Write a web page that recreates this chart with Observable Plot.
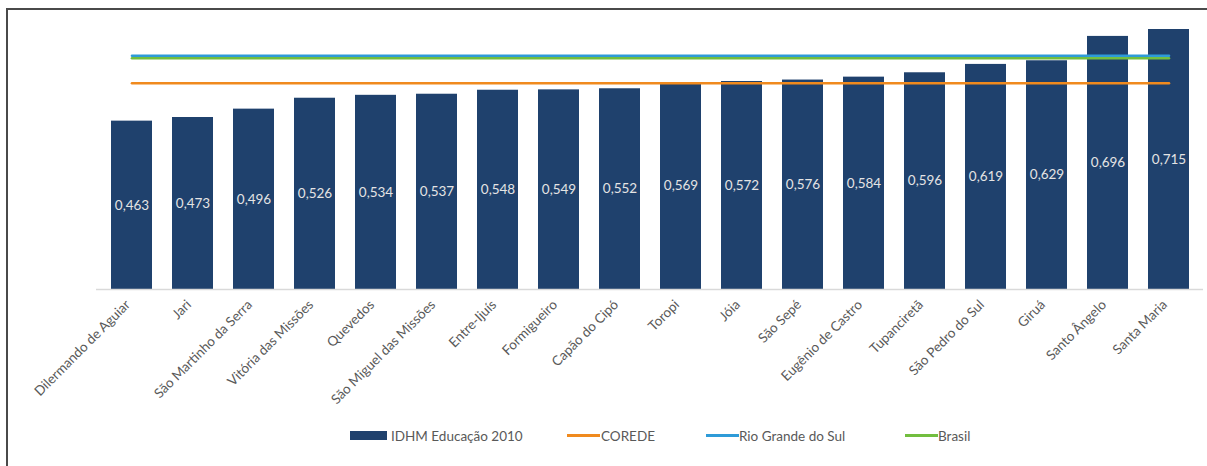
<!DOCTYPE html>
<html><head><meta charset="utf-8">
<script src="https://cdn.jsdelivr.net/npm/d3@7"></script>
<script src="https://cdn.jsdelivr.net/npm/@observablehq/plot@0.6"></script>
<style>
html,body{margin:0;padding:0;background:#fff}
body{width:1207px;height:466px;overflow:hidden;position:relative;font-family:Lato,sans-serif}
#frame{position:absolute;left:6px;top:8px;width:1400px;height:600px;border-top:2px solid #4a4a4a;border-left:2px solid #4a4a4a;box-sizing:border-box}
#chart{position:absolute;left:0;top:0}
.lg{position:absolute;top:427px;font-size:13.5px;color:#595959;line-height:18px;white-space:nowrap}
.sw{position:absolute}
</style></head>
<body>
<div id="frame"></div>
<div id="chart"></div>
<div id="legend"></div>
<script>
const cities = ["Dilermando de Aguiar","Jari","São Martinho da Serra","Vitória das Missões","Quevedos","São Miguel das Missões","Entre-Ijuís","Formigueiro","Capão do Cipó","Toropi","Jóia","São Sepé","Eugênio de Castro","Tupanciretã","São Pedro do Sul","Giruá","Santo Ângelo","Santa Maria"];
const values = [0.463,0.473,0.496,0.526,0.534,0.537,0.548,0.549,0.552,0.569,0.572,0.576,0.584,0.596,0.619,0.629,0.696,0.715];
const refNames = ["COREDE","Rio Grande do Sul","Brasil"];
const refValues = [0.567,0.643,0.636];
const refColors = ["#F08A1E","#2E9BD8","#72BE3F"];
const barColor = "#1F416D";
const seriesName = "IDHM Educação 2010";

const data = cities.map((c,i)=>({city:c, value:values[i]}));
const ends = [cities[0], cities[cities.length-1]];
const fmt = v => v.toFixed(3).replace(".", ",");

const lineMark = k =>
  Plot.lineY(ends.map(c => ({city:c, value:refValues[k]})), {x:"city", y:"value", stroke:refColors[k], strokeWidth:2.6});

const chart = Plot.plot({
  width:1207, height:420,
  marginLeft:96, marginRight:4, marginTop:29, marginBottom:131,
  style:{fontFamily:"Lato, sans-serif", background:"transparent"},
  x:{type:"band", domain:cities, range:[106,1193], paddingInner:0.33, paddingOuter:0, label:null},
  y:{domain:[0,0.715], axis:null},
  marks:[
    Plot.barY(data, {x:"city", y:"value", fill:barColor}),
    Plot.ruleY([0], {stroke:"#d9d9d9", strokeWidth:1.5}),
    Plot.text(data, {x:"city", y:d=>d.value/2, text:d=>fmt(d.value), fill:"#e4e4e4", fontSize:13.5}),
    lineMark(0), lineMark(2), lineMark(1),
    Plot.axisX({tickRotate:-45, tickSize:0, tickPadding:13, dx:-4, fontSize:13.5, fill:"#595959", label:null})
  ]
});
document.getElementById("chart").appendChild(chart);

const lg = document.getElementById("legend");
const items = [
  {name:seriesName, color:barColor, sw:[350,431,37,9], tx:391},
  {name:refNames[0], color:refColors[0], sw:[567,434,33,3], tx:601},
  {name:refNames[1], color:refColors[1], sw:[706,434,33,3], tx:739},
  {name:refNames[2], color:refColors[2], sw:[905,434,33,3], tx:938}
];
items.forEach(it => {
  const s = document.createElement("div");
  s.className = "sw";
  s.style.cssText = `left:${it.sw[0]}px;top:${it.sw[1]}px;width:${it.sw[2]}px;height:${it.sw[3]}px;background:${it.color}`;
  lg.appendChild(s);
  const t = document.createElement("div");
  t.className = "lg";
  t.style.left = it.tx + "px";
  t.textContent = it.name;
  lg.appendChild(t);
});
</script>
</body></html>
